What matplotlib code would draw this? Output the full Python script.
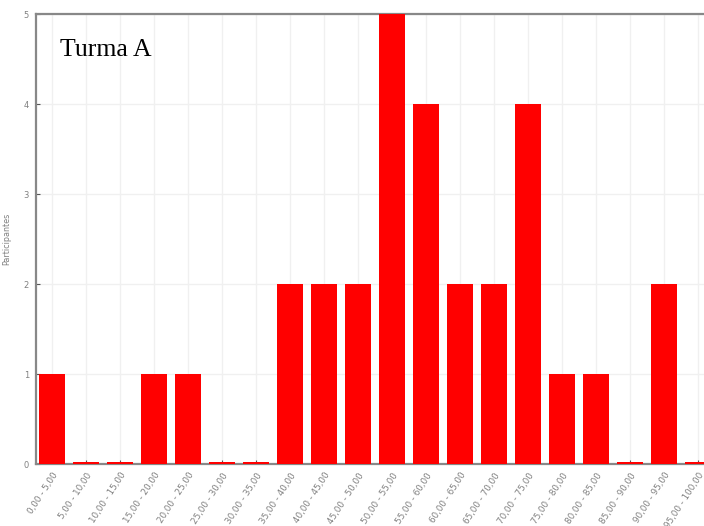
import matplotlib
matplotlib.use("Agg")
import matplotlib.pyplot as plt
import numpy as np

bins = [f"{a:.2f} - {a + 5:.2f}".replace(".", ",") for a in range(0, 100, 5)]
participantes = [1, 0, 0, 1, 1, 0, 0, 2, 2, 2, 5, 4, 2, 2, 4, 1, 1, 0, 2, 0]
y_ticks = [0, 1, 2, 3, 4, 5]

fig = plt.figure(figsize=(7.04, 5.26), dpi=100)
ax = fig.add_axes([36 / 704, 62 / 526, 679 / 704, 450 / 526])

x = np.arange(len(bins))
heights = [v if v > 0 else 0.025 for v in participantes]
ax.bar(x, heights, width=0.74, color="#ff0000", zorder=3)

ax.set_xlim(-0.47, len(bins) - 0.5)
ax.set_ylim(0, 5)
ax.set_yticks(y_ticks)
ax.set_xticks(x)
ax.set_xticklabels(bins, rotation=57, ha="right", va="top", rotation_mode="anchor",
                   fontsize=6.3, color="#808080")
ax.tick_params(axis="y", labelsize=6, labelcolor="#808080", direction="in",
               length=3, color="#555555", pad=5)
ax.tick_params(axis="x", direction="in", length=3, color="#555555", pad=5)

ax.grid(True, color="#f0f0f0", linewidth=1, zorder=0)
for side in ["left", "top", "bottom"]:
    ax.spines[side].set_color("#888888")
    ax.spines[side].set_linewidth(1.6)
ax.spines["right"].set_visible(False)

ax.set_ylabel("Participantes", fontsize=5.8, color="#808080", labelpad=9)
ax.text(24 / 679, 0.92, "Turma A", transform=ax.transAxes, fontsize=18.5,
        family="Liberation Serif", va="center", ha="left")

fig.savefig("out.png", dpi=100)
